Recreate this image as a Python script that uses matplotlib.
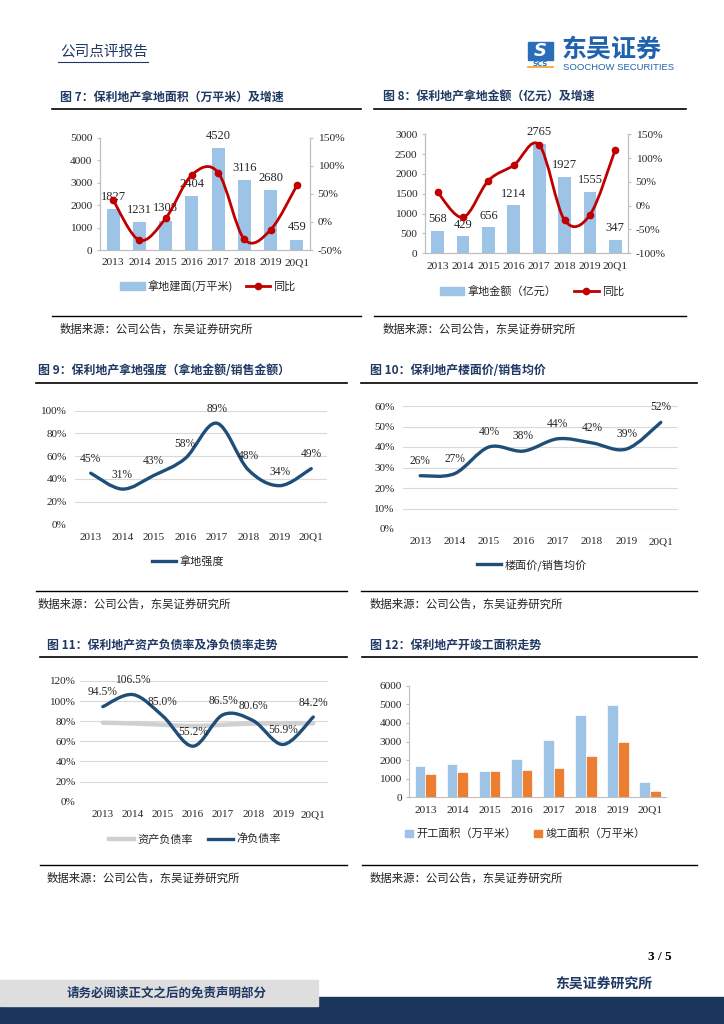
import numpy as np
import matplotlib.pyplot as plt
from matplotlib.path import Path
from matplotlib.patches import PathPatch, Rectangle, Patch
from matplotlib.lines import Line2D

W, H = 724, 1024

years = ['2013', '2014', '2015', '2016', '2017', '2018', '2019', '20Q1']

# 图7 拿地建面 (万平米) and 同比 (%)
land_area = [1827, 1231, 1308, 2404, 4520, 3116, 2680, 459]
land_area_yoy = [39, -32.6, 6.3, 83.8, 88.0, -31.1, -14.0, 65]

# 图8 拿地金额 (亿元) and 同比 (%)
land_amount = [568, 429, 656, 1214, 2765, 1927, 1555, 347]
land_amount_yoy = [28, -24.5, 52.9, 85.1, 127.8, -30.3, -19.3, 118]

# 图9 拿地强度
land_intensity = [0.45, 0.31, 0.43, 0.58, 0.89, 0.48, 0.34, 0.49]

# 图10 楼面价/销售均价
price_ratio = [0.26, 0.27, 0.40, 0.38, 0.44, 0.42, 0.39, 0.52]

# 图11 资产负债率 / 净负债率
asset_liab = [0.785, 0.778, 0.765, 0.752, 0.765, 0.776, 0.777, 0.780]
net_debt = [0.945, 1.065, 0.850, 0.552, 0.865, 0.806, 0.569, 0.842]

# 图12 开工 / 竣工面积 (万平米)
start_area = [1700, 1780, 1400, 2050, 3080, 4400, 4980, 800]
finish_area = [1270, 1370, 1400, 1460, 1550, 2220, 2960, 330]

CJK = ['Noto Sans CJK SC', 'DejaVu Sans']
NUM = ['Liberation Serif', 'Noto Sans CJK SC']
NAVY = '#1f3864'
BAR_BLUE = '#9dc3e6'
RED = '#c00000'
LINE_BLUE = '#1f4e79'
GRAY_AX = '#bfbfbf'
TXT = '#262626'

plt.rcParams['font.family'] = NUM
plt.rcParams['axes.unicode_minus'] = False

fig = plt.figure(figsize=(7.24, 10.24), dpi=100)


def add_ax(l, t, r, b):
    return fig.add_axes([l / W, 1 - b / H, (r - l) / W, (b - t) / H])


def ftext(x, y, s, **kw):
    fig.text(x / W, 1 - y / H, s, **kw)


def hline(x0, x1, y, lw=1.0, color='black'):
    fig.add_artist(Line2D([x0 / W, x1 / W], [1 - y / H] * 2, lw=lw, color=color))


def smooth_path(xs, ys):
    # Excel style smoothed line: cubic bezier through every point
    pts = list(zip(xs, ys))
    n = len(pts)
    verts = [pts[0]]
    codes = [Path.MOVETO]
    for i in range(n - 1):
        p0 = pts[max(i - 1, 0)]
        p1 = pts[i]
        p2 = pts[i + 1]
        p3 = pts[min(i + 2, n - 1)]
        c1 = (p1[0] + (p2[0] - p0[0]) / 6, p1[1] + (p2[1] - p0[1]) / 6)
        c2 = (p2[0] - (p3[0] - p1[0]) / 6, p2[1] - (p3[1] - p1[1]) / 6)
        verts += [c1, c2, p2]
        codes += [Path.CURVE4] * 3
    return Path(verts, codes)


def smooth_line(ax, ys, color, lw, zorder=3):
    xs = np.arange(len(ys))
    patch = PathPatch(smooth_path(xs, ys), fill=False, edgecolor=color, lw=lw,
                      capstyle='round', joinstyle='round', zorder=zorder, clip_on=False)
    ax.add_patch(patch)


def style_ticks(ax, size=7.6):
    for lab in ax.get_xticklabels() + ax.get_yticklabels():
        lab.set_fontsize(size)
        lab.set_color(TXT)


def legend(handles, labels, cx, cy, colsp=1.4, hl=2.2):
    fig.legend(handles, labels, loc='center', bbox_to_anchor=(cx / W, 1 - cy / H),
               ncol=len(handles), frameon=False, handlelength=hl, handletextpad=0.3,
               columnspacing=colsp, prop={'family': CJK, 'size': 8}, labelcolor=TXT)


def block(x0, x1, title_x, title, top_line, bottom_line):
    ftext(title_x, top_line - 12, title, family=CJK, weight='bold', size=8.6,
          color=NAVY, va='center')
    hline(x0, x1, top_line, lw=1.2)
    hline(x0, x1, bottom_line, lw=1.0)
    ftext(title_x, bottom_line + 13, '数据来源：公司公告，东吴证券研究所', family=CJK,
          size=8.2, color='#222222', va='center')


def bar_line_chart(rect, bars, yoy, ymax, ystep, ylim2, label_off):
    ax = add_ax(*rect)
    x = np.arange(len(bars))
    ax.bar(x, bars, width=0.5, color=BAR_BLUE, zorder=2)
    ax.set_xlim(-0.5, len(bars) - 0.5)
    ax.set_ylim(0, ymax)
    ax.set_yticks(np.arange(0, ymax + 1, ystep))
    ax.set_xticks(x)
    ax.set_xticklabels(years)
    for xi, v in zip(x, bars):
        ax.annotate(str(v), (xi, v), xytext=(0, label_off), textcoords='offset points',
                    ha='center', va='center', fontsize=9, color=TXT)
    ax2 = ax.twinx()
    ax2.set_ylim(*ylim2)
    ax2.set_yticks(np.arange(ylim2[0], ylim2[1] + 1, 50))
    ax2.yaxis.set_major_formatter(plt.FuncFormatter(lambda v, p: f'{v:.0f}%'))
    smooth_line(ax2, yoy, RED, 2.0)
    ax2.plot(x, yoy, 'o', color=RED, ms=4.5, zorder=4, clip_on=False)
    for a in (ax, ax2):
        a.spines['top'].set_visible(False)
        for s in ('left', 'right', 'bottom'):
            a.spines[s].set_color(GRAY_AX)
            a.spines[s].set_linewidth(0.8)
        a.tick_params(axis='y', direction='out', length=2.5, color=GRAY_AX, pad=3)
        a.tick_params(axis='x', length=0, pad=6)
        style_ticks(a, 8.2)
    return ax, ax2


def line_chart(rect, xlim, ylim, yticks):
    ax = add_ax(*rect)
    ax.set_xlim(*xlim)
    ax.set_ylim(*ylim)
    ax.set_yticks(yticks)
    ax.set_xticks(np.arange(len(years)))
    ax.set_xticklabels(years)
    ax.yaxis.set_major_formatter(plt.FuncFormatter(lambda v, p: f'{v * 100:.0f}%'))
    ax.grid(axis='y', color='#d9d9d9', lw=0.8)
    ax.set_axisbelow(True)
    for s in ax.spines.values():
        s.set_visible(False)
    ax.tick_params(length=0)
    ax.tick_params(axis='y', pad=6)
    ax.tick_params(axis='x', pad=6)
    style_ticks(ax, 8.0)
    return ax


def point_labels(ax, vals, fmt, off=10.2):
    for xi, v in enumerate(vals):
        ax.annotate(fmt(v), (xi, v), xytext=(0, off), textcoords='offset points',
                    ha='center', va='center', fontsize=8.3, color=TXT)


# ---------------- header ----------------
ftext(60, 52, '公司点评报告', family=CJK, size=10.5, color=NAVY, va='center')
hline(58, 148, 62, lw=0.8, color=NAVY)
fig.add_artist(Rectangle((528 / W, 1 - 60 / H), 25 / W, 18 / H, transform=fig.transFigure,
                         color='#2a6ebb'))
ftext(540.5, 51, 'S', family='DejaVu Sans', weight='bold', style='italic', size=13,
      color='white', ha='center', va='center')
ftext(540.5, 63.5, 'SCS', family='DejaVu Sans', weight='bold', size=5, color='#2a6ebb',
      ha='center', va='center')
hline(528, 553, 67, lw=1.2, color='#f0a030')
ftext(562, 50, '东吴证券', family=CJK, weight='bold', size=18, color='#1f62b0', va='center')
ftext(563, 68, 'SOOCHOW SECURITIES', family='Liberation Sans', size=6.8, color='#1f62b0',
      va='center')

# ---------------- row 1 ----------------
block(52, 361, 60, '图 7：保利地产拿地面积（万平米）及增速', 109, 316)
block(374, 686, 383, '图 8：保利地产拿地金额（亿元）及增速', 109, 316)

bar_line_chart((100, 137.7, 310, 250), land_area, land_area_yoy, 5000, 1000, (-50, 150), 8.8)
legend([Patch(color=BAR_BLUE), Line2D([], [], color=RED, lw=2, marker='o', ms=4.5)],
       ['拿地建面(万平米)', '同比'], 208, 286, colsp=1.1)

bar_line_chart((425, 134.3, 628, 253.3), land_amount, land_amount_yoy, 3000, 500, (-100, 150), 8.3)
legend([Patch(color=BAR_BLUE), Line2D([], [], color=RED, lw=2, marker='o', ms=4.5)],
       ['拿地金额（亿元）', '同比'], 532, 291, colsp=1.6)

# ---------------- row 2 ----------------
block(36, 347, 38, '图 9：保利地产拿地强度（拿地金额/销售金额）', 383, 591)
block(361, 697, 370, '图 10：保利地产楼面价/销售均价', 383, 591)

ax9 = line_chart((75, 410.7, 327, 524.3), (-0.5, 7.5), (0, 1.0), np.arange(0, 1.01, 0.2))
smooth_line(ax9, land_intensity, LINE_BLUE, 2.4)
point_labels(ax9, land_intensity, lambda v: f'{v * 100:.0f}%')
legend([Line2D([], [], color=LINE_BLUE, lw=2.4)], ['拿地强度'], 188, 561)

ax10 = line_chart((403, 406, 678, 529), (-0.5, 7.5), (0, 0.6), np.arange(0, 0.61, 0.1))
smooth_line(ax10, price_ratio, LINE_BLUE, 2.4)
point_labels(ax10, price_ratio, lambda v: f'{v * 100:.0f}%', off=10.8)
legend([Line2D([], [], color=LINE_BLUE, lw=2.4)], ['楼面价/销售均价'], 532, 565)

# ---------------- row 3 ----------------
block(40, 347, 47, '图 11：保利地产资产负债率及净负债率走势', 657, 865)
block(362, 697, 370, '图 12：保利地产开竣工面积走势', 657, 865)

ax11 = line_chart((80, 681, 328, 801.7), (-0.76, 7.49), (0, 1.2), np.arange(0, 1.21, 0.2))
ax11.tick_params(axis='y', pad=3)
smooth_line(ax11, asset_liab, '#d0d0d0', 3.2, zorder=2)
smooth_line(ax11, net_debt, LINE_BLUE, 2.4)
point_labels(ax11, net_debt, lambda v: f'{v * 100:.1f}%')
legend([Line2D([], [], color='#d0d0d0', lw=3.2), Line2D([], [], color=LINE_BLUE, lw=2.4)],
       ['资产负债率', '净负债率'], 195, 839, colsp=1.4)

ax12 = add_ax(409.3, 685.7, 666, 797.3)
x = np.arange(len(years))
bw = 0.335
ax12.bar(x - bw / 2, start_area, width=bw, color=BAR_BLUE, edgecolor='white', lw=0.5)
ax12.bar(x + bw / 2, finish_area, width=bw, color='#ed7d31', edgecolor='white', lw=0.5)
ax12.set_xlim(-0.5, 7.5)
ax12.set_ylim(0, 6000)
ax12.set_yticks(np.arange(0, 6001, 1000))
ax12.set_xticks(x)
ax12.set_xticklabels(years)
for s in ('top', 'right'):
    ax12.spines[s].set_visible(False)
for s in ('left', 'bottom'):
    ax12.spines[s].set_color(GRAY_AX)
    ax12.spines[s].set_linewidth(0.8)
ax12.tick_params(axis='y', direction='out', length=2.5, color=GRAY_AX, pad=3)
ax12.tick_params(axis='x', length=0, pad=6)
style_ticks(ax12, 8.2)
legend([Patch(color=BAR_BLUE), Patch(color='#ed7d31')],
       ['开工面积（万平米）', '竣工面积（万平米）'], 525, 834, colsp=1.6, hl=0.7)

# ---------------- footer ----------------
ftext(672, 957, '3 / 5', family='Liberation Serif', weight='bold', size=9.5, color='black',
      ha='right', va='center')
ftext(604, 985, '东吴证券研究所', family=CJK, weight='bold', size=10, color=NAVY,
      ha='center', va='center')
fig.add_artist(Rectangle((0, 0), 1, 27 / H, transform=fig.transFigure, color='#1b365d'))
fig.add_artist(Rectangle((0, 1 - 1006 / H), 318 / W, 26 / H, transform=fig.transFigure,
                         color='#dedede'))
ftext(167, 993, '请务必阅读正文之后的免责声明部分', family=CJK, weight='bold', size=9,
      color=NAVY, ha='center', va='center')

fig.savefig('out.png', dpi=100)
